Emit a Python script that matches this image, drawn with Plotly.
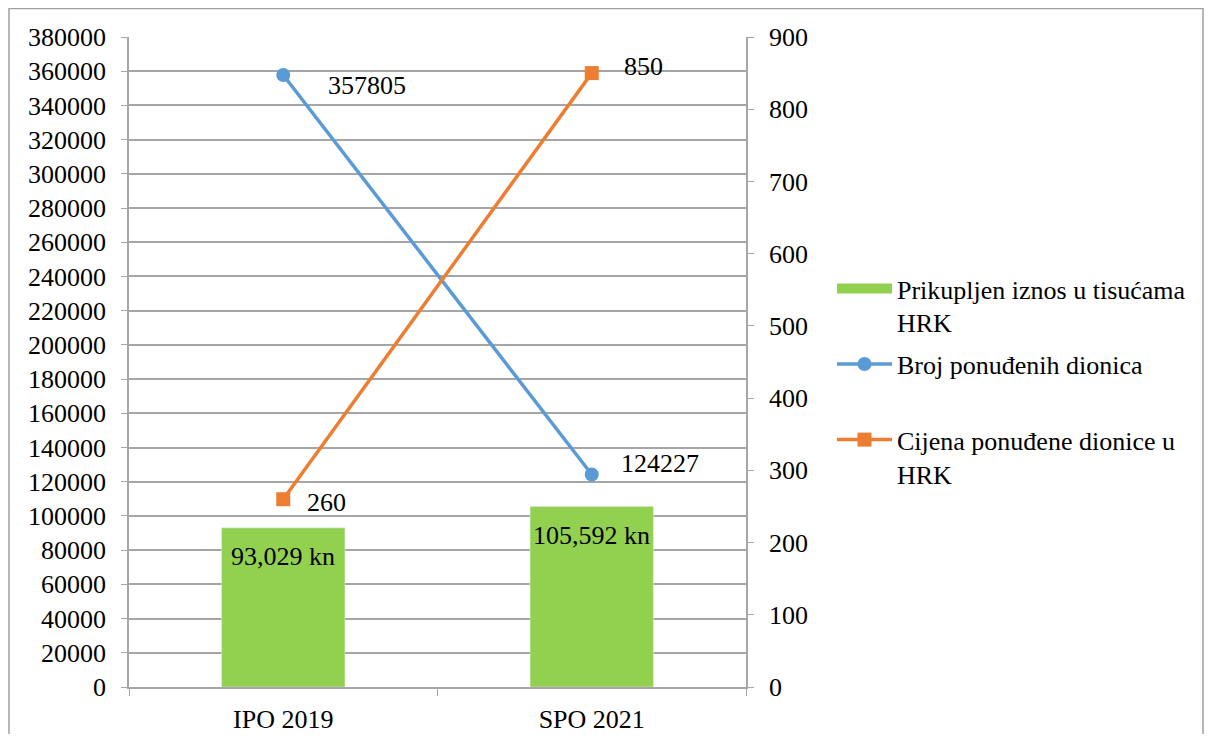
import plotly.graph_objects as go

categories = ["IPO 2019", "SPO 2021"]
prikupljen = [93029, 105592]
broj_dionica = [357805, 124227]
cijena = [260, 850]

bar_name = "Prikupljen iznos u tisućama<br>HRK"
blue_name = "Broj ponuđenih dionica<br> "
orange_name = "Cijena ponuđene dionice u<br>HRK"

FONT = "Liberation Serif, Times New Roman, serif"
FS = 26
GRID = "#A6A6A6"
GREEN = "#92D050"

fig = go.Figure()
fig.add_trace(go.Bar(
    x=categories, y=prikupljen, name=bar_name, marker_color=GREEN,
    width=0.4, showlegend=False,
))
# legend entry for the bars (wide rectangle swatch like the original)
fig.add_trace(go.Scatter(
    x=[None], y=[None], name=bar_name, mode="lines",
    line=dict(color=GREEN, width=12), legendgroup="a",
))
fig.add_trace(go.Scatter(
    x=categories, y=broj_dionica, name=blue_name, mode="lines+markers",
    line=dict(color="#5B9BD5", width=3.5), marker=dict(symbol="circle", size=14),
    legendgroup="b",
))
fig.add_trace(go.Scatter(
    x=categories, y=cijena, name=orange_name, mode="lines+markers", yaxis="y2",
    line=dict(color="#ED7D31", width=3.5), marker=dict(symbol="square", size=14),
    legendgroup="c",
))

lab_font = dict(family=FONT, size=FS, color="black")
# bar value labels
for c, v in zip(categories, prikupljen):
    fig.add_annotation(x=c, y=v, text=f"{v:,} kn", showarrow=False, xanchor="center",
                       yanchor="middle", yshift=-29, font=lab_font)
# data labels for the lines
shifts_blue = [(43, -11), (27, 11)]
for c, v, (dx, dy) in zip(categories, broj_dionica, shifts_blue):
    fig.add_annotation(x=c, y=v, text=str(v), showarrow=False, xanchor="left",
                       xshift=dx, yshift=dy, font=lab_font)
shifts_orange = [(22, -3), (30, 7)]
for c, v, (dx, dy) in zip(categories, cijena, shifts_orange):
    fig.add_annotation(x=c, y=v, yref="y2", text=str(v), showarrow=False, xanchor="left",
                       xshift=dx, yshift=dy, font=lab_font)

OFF = 8  # page offset of the plot div
W, H = 1214 - 2 * OFF, 742 - 2 * OFF
L, T = 129 - OFF, 37 - OFF
R = W - (746 - OFF)
B = H - (687 - OFF)
pw, ph = W - L - R, H - T - B
fig.add_shape(type="rect", xref="paper", yref="paper",
              x0=(1 - L) / pw, x1=(W - 3 - L) / pw,
              y0=(T + ph - (H + 20)) / ph, y1=(T + ph - 0.5) / ph,
              line=dict(color="#A0A0A0", width=1.5), fillcolor="rgba(0,0,0,0)", layer="below")

fig.update_layout(
    width=W, height=H, margin=dict(l=L, r=R, t=T, b=B, autoexpand=False),
    paper_bgcolor="white", plot_bgcolor="white",
    font=dict(family=FONT, size=FS, color="black"),
    showlegend=True,
    legend=dict(x=(832 - 129) / pw, xanchor="left", y=(T + ph - 257) / ph, yanchor="top",
                valign="top", tracegroupgap=5, itemwidth=55,
                font=dict(family=FONT, size=26, color="black"),
                bgcolor="rgba(0,0,0,0)"),
    xaxis=dict(showline=True, linecolor=GRID, linewidth=1.5, ticks="outside",
               tickson="boundaries", ticklen=7, tickcolor=GRID, ticklabelstandoff=8,
               tickfont=dict(family=FONT, size=FS), showgrid=False, automargin=False),
    yaxis=dict(range=[0, 380000], dtick=20000, tickformat="d", showgrid=True,
               gridcolor=GRID, gridwidth=1.5, showline=True, linecolor=GRID, linewidth=1.5,
               ticks="outside", ticklen=6, tickcolor=GRID, ticklabelstandoff=10,
               tickfont=dict(family=FONT, size=FS), zeroline=False, automargin=False),
    yaxis2=dict(range=[0, 900], dtick=100, overlaying="y", side="right", showgrid=False,
                showline=True, linecolor=GRID, linewidth=1.5, ticks="outside", ticklen=6,
                tickcolor=GRID, ticklabelstandoff=10, tickfont=dict(family=FONT, size=FS),
                zeroline=False, automargin=False),
)
fig.write_html("out.html")
